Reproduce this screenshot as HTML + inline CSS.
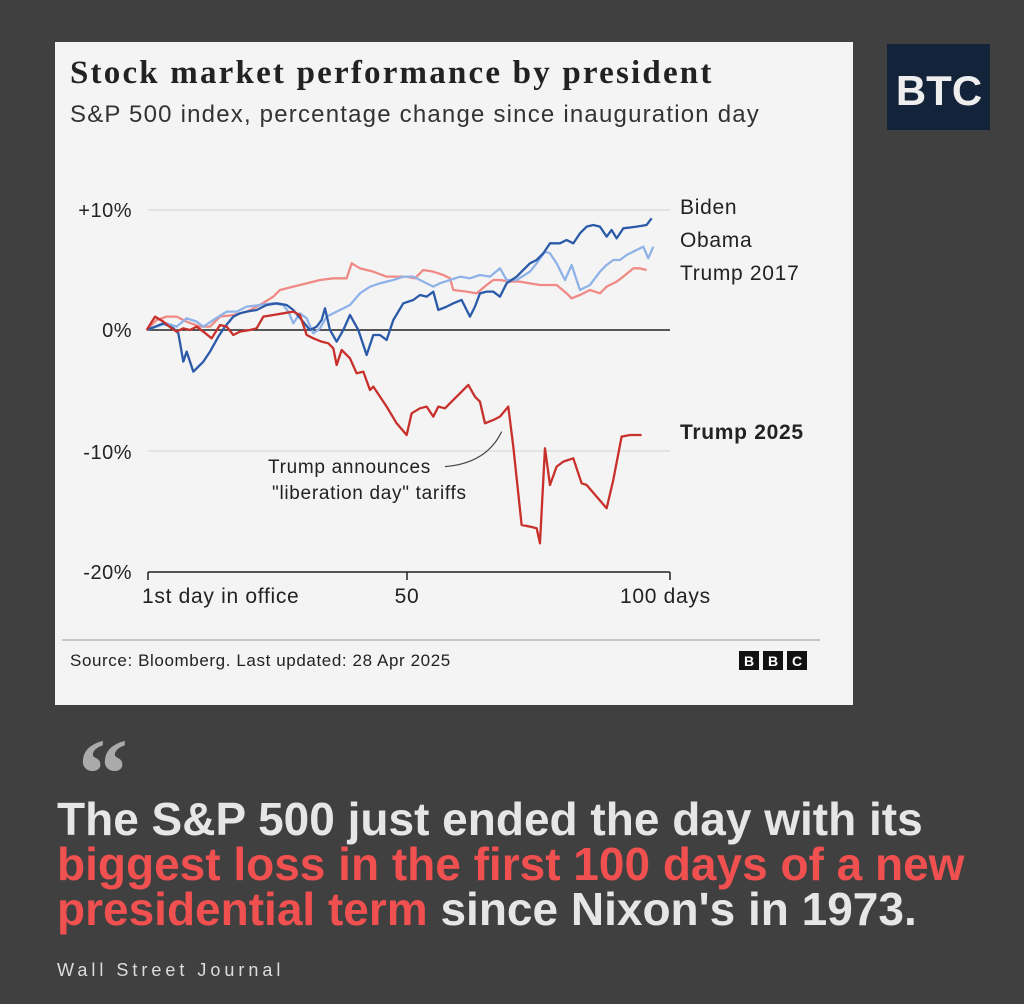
<!DOCTYPE html>
<html><head><meta charset="utf-8"><style>
body{margin:0;width:1024px;height:1004px;background:#404040;position:relative;overflow:hidden;font-family:"Liberation Sans",sans-serif}
.card{position:absolute;left:55px;top:42px;width:798px;height:663px;background:#f4f4f4}
.t{position:absolute;white-space:nowrap}
</style></head><body>
<div class="card"></div>
<div class="t" style="left:70px;top:55px;font:bold 33px 'Liberation Serif',serif;color:#222;letter-spacing:2.2px">Stock market performance by president</div>
<div class="t" style="left:70px;top:101px;font-size:24px;color:#333;letter-spacing:1.2px">S&amp;P 500 index, percentage change since inauguration day</div>
<div style="position:absolute;left:887px;top:44px;width:103px;height:86px;background:#13233a"></div>
<div class="t" style="left:889px;top:67px;font:bold 42px 'Liberation Sans',sans-serif;color:#eee;width:100px;text-align:center">BTC</div>
<svg width="1024" height="1004" style="position:absolute;left:0;top:0">
<g stroke="#ddd" stroke-width="1.5"><line x1="148" y1="210" x2="670" y2="210"/><line x1="148" y1="451" x2="670" y2="451"/></g>
<line x1="148" y1="330" x2="670" y2="330" stroke="#222" stroke-width="1.5"/>
<line x1="148" y1="572" x2="670" y2="572" stroke="#222" stroke-width="1.5"/>
<g stroke="#222" stroke-width="1.5"><line x1="148" y1="572" x2="148" y2="580"/><line x1="407" y1="572" x2="407" y2="580"/><line x1="670" y1="572" x2="670" y2="580"/></g>
<g text-anchor="end" font-size="20" fill="#222" font-family="Liberation Sans,sans-serif" letter-spacing="0.5">
<text x="132" y="217">+10%</text><text x="132" y="337">0%</text><text x="132" y="459">-10%</text><text x="132" y="579">-20%</text></g>
<g font-size="21" fill="#222" font-family="Liberation Sans,sans-serif" letter-spacing="0.7">
<text x="142" y="603">1st day in office</text><text x="407" y="603" text-anchor="middle">50</text><text x="620" y="603">100 days</text>
<text x="680" y="214">Biden</text><text x="680" y="247">Obama</text><text x="680" y="280">Trump 2017</text>
<text x="680" y="439" font-weight="bold">Trump 2025</text>
<text x="268" y="473" font-size="19">Trump announces</text><text x="272" y="499" font-size="19">"liberation day" tariffs</text></g>
<g transform="translate(140,180) scale(0.3333)" fill="none" stroke-width="2.3" stroke-linejoin="round">
<path vector-effect="non-scaling-stroke" stroke="#444" stroke-width="1.2" d="M915,860 Q1040,850 1085,755"/>
<path vector-effect="non-scaling-stroke" stroke="#f08a86" d="M20,450 50,420 80,410 110,410 140,425 180,440 210,440 240,410 280,405 320,395 360,375 400,350 420,330 460,320 500,310 540,300 580,295 620,295 635,250 660,265 700,275 740,290 770,290 800,290 825,295 850,270 880,275 910,285 930,295 940,330 980,335 1010,340 1040,315 1060,300 1080,300 1110,305 1140,305 1170,310 1200,315 1250,315 1280,340 1295,355 1320,345 1350,330 1380,340 1400,320 1430,305 1450,290 1480,265 1500,265 1520,270"/>
<path vector-effect="non-scaling-stroke" stroke="#8fb3e8" d="M20,450 50,440 80,430 110,440 140,415 170,425 190,440 220,420 260,395 290,395 320,380 360,375 400,370 430,375 445,395 460,430 480,400 500,415 520,460 540,445 560,410 590,395 630,375 660,340 690,320 720,310 760,300 790,290 820,290 850,305 880,320 900,310 930,300 960,290 990,295 1020,285 1050,290 1080,265 1100,300 1130,300 1170,275 1190,250 1215,215 1230,220 1250,250 1275,300 1295,255 1320,330 1350,315 1380,275 1400,255 1420,240 1440,240 1460,225 1490,210 1510,200 1525,235 1540,200"/>
<path vector-effect="non-scaling-stroke" stroke="#2a5aa8" d="M20,450 45,440 70,430 100,445 115,460 130,545 140,515 160,575 190,545 210,515 235,470 255,440 280,410 300,400 320,395 350,390 380,375 410,370 440,375 460,390 485,420 510,450 530,440 545,420 555,385 570,450 590,485 610,450 630,405 655,450 680,525 700,465 720,465 740,480 760,420 790,370 820,360 840,345 860,350 880,335 895,390 920,380 940,370 965,360 990,410 1005,380 1020,340 1040,335 1060,335 1080,350 1100,310 1130,290 1150,270 1170,250 1190,240 1210,220 1230,190 1260,190 1280,180 1300,190 1320,160 1340,140 1360,135 1380,140 1400,170 1415,150 1430,175 1450,145 1490,140 1520,135 1535,115"/>
<path vector-effect="non-scaling-stroke" stroke="#c8302c" d="M20,450 45,410 70,425 95,445 110,455 130,445 150,450 170,440 190,455 215,475 240,435 260,440 280,465 300,455 330,450 350,445 370,410 400,405 430,400 460,395 480,405 500,465 520,475 545,485 565,490 580,505 590,555 605,510 630,535 650,580 670,575 690,630 700,620 720,650 740,680 770,730 800,765 815,700 840,685 860,680 880,710 895,680 915,685 940,660 960,640 985,615 1005,650 1020,665 1035,730 1060,720 1080,710 1105,680 1120,800 1145,1035 1170,1040 1190,1045 1200,1090 1215,805 1230,915 1250,860 1270,845 1300,835 1325,910 1340,915 1370,950 1400,985 1420,900 1445,770 1470,765 1505,765"/>
</g>
<line x1="62" y1="640" x2="820" y2="640" stroke="#999" stroke-width="1"/>
<text x="70" y="666" font-size="17" fill="#222" font-family="Liberation Sans,sans-serif" letter-spacing="0.6">Source: Bloomberg. Last updated: 28 Apr 2025</text>
<g font-size="14" font-weight="bold" fill="#fff" font-family="Liberation Sans,sans-serif" text-anchor="middle">
<rect x="739" y="651" width="20" height="19" fill="#111"/><text x="749" y="666">B</text>
<rect x="763" y="651" width="20" height="19" fill="#111"/><text x="773" y="666">B</text>
<rect x="787" y="651" width="20" height="19" fill="#111"/><text x="797" y="666">C</text></g>
</svg>
<div class="t" style="left:78px;top:724px;font:bold 100px 'Liberation Serif',serif;color:#aaa;line-height:1">“</div>
<div class="t" style="left:57px;top:797px;font:bold 46px/45px 'Liberation Sans',sans-serif;color:#e6e6e6;letter-spacing:0px">The S&amp;P 500 just ended the day with its<br><span style="color:#f0504f">biggest loss in the first 100 days of a new</span><br><span style="color:#f0504f">presidential term</span> since Nixon's in 1973.</div>
<div class="t" style="left:57px;top:960px;font-size:18px;color:#ddd;letter-spacing:4px">Wall Street Journal</div>
</body></html>
